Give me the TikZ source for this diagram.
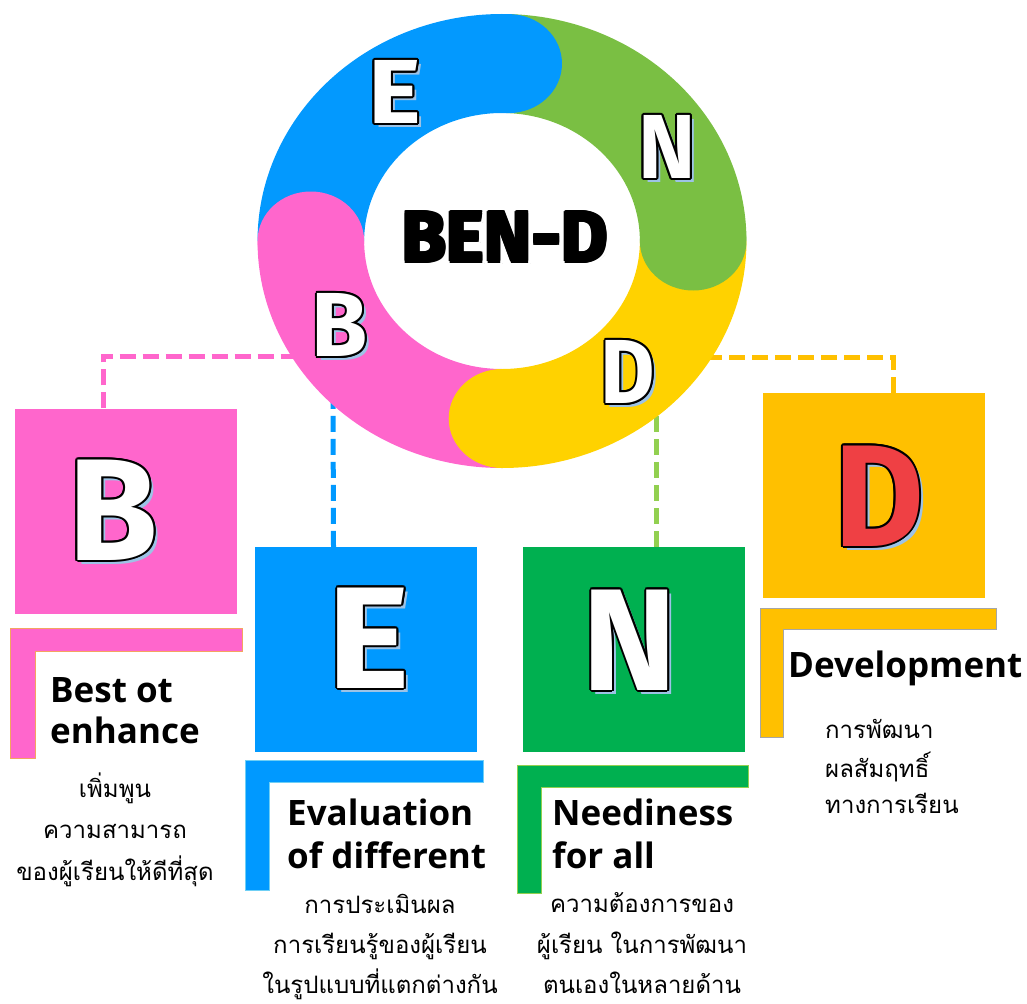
\documentclass[tikz,border=0pt]{standalone}
\usepackage{fontspec}
\setmainfont{Open Sans}
\newfontfamily\thaifont[Script=Thai]{Loma}
\newfontfamily\letterfont{Fira Sans}
\definecolor{rblue}{HTML}{0399FE}
\definecolor{rgreen}{HTML}{7ABF43}
\definecolor{ryellow}{HTML}{FFD200}
\definecolor{rpink}{HTML}{FF66CC}
\definecolor{bpink}{HTML}{FF66CC}
\definecolor{bblue}{HTML}{0099FF}
\definecolor{bgreen}{HTML}{00B050}
\definecolor{borange}{HTML}{FFC000}
\definecolor{lgreen}{HTML}{92D050}
\definecolor{shadowblue}{HTML}{9DC3E6}
\definecolor{dred}{HTML}{EF4044}
\definecolor{pinkedge}{HTML}{F4A460}
\definecolor{blueedge}{HTML}{6FCFF5}
\definecolor{grayedge}{HTML}{A6A6A6}
\tikzset{
  box/.style={draw=none, inner sep=0, minimum width=222, minimum height=205},
  bracket/.style={line width=1pt},
  conn/.style={line width=5pt, dash pattern=on 16pt off 7pt},
  captxt/.style={font=\bfseries\fontsize{35}{35}\selectfont, inner sep=0, anchor=base west},
  thaitxt/.style={font=\thaifont\fontsize{24}{24}\selectfont, inner sep=0, anchor=base},
  thaileft/.style={thaitxt, anchor=base west},
  bigL/.style={font=\letterfont\bfseries\fontsize{145}{145}\selectfont, inner sep=0},
  ringL/.style={font=\letterfont\bfseries\fontsize{91}{91}\selectfont, inner sep=0},
  titleL/.style={font=\letterfont\bfseries\fontsize{72}{72}\selectfont, inner sep=0},
}
% name, position, text, fill, outline, shadow, style
\newcommand\outlet[7]{%
  \node[#7, text=#6, xshift=4, yshift=-4] at (#2) {#3};
  \foreach \a in {0,30,...,330}{\node[#7, text=#5, shift={(\a:2)}] at (#2) {#3};}
  \node[#7, text=#4] (#1) at (#2) {#3};
}
\begin{document}
\begin{tikzpicture}[x=1pt,y=-1pt]
\useasboundingbox (0,0) rectangle (1027,1003);

% boxes
\node[box, fill=bpink]   (Bbox) at (126,511)   {};
\node[box, fill=bblue]   (Ebox) at (365.5,649.5) {};
\node[box, fill=bgreen]  (Nbox) at (634,649.5) {};
\node[box, fill=borange] (Dbox) at (874,495.5) {};

% connector ends under the ring
\coordinate (pinkend) at (300,356);
\coordinate (blueend) at (333,395);
\coordinate (greenend) at (656,405);
\coordinate (orangeend) at (705,357);

\draw[conn, bpink]  ([xshift=-23]Bbox.north) |- (pinkend);
\draw[conn, bblue]  ([xshift=-32]Ebox.north) -- (blueend);
\draw[conn, lgreen] ([xshift=22]Nbox.north) -- (greenend);
\draw[conn, borange] ([xshift=19]Dbox.north) |- (orangeend);

% ring
\begin{scope}[shift={(502,241)}, yscale=-1, xscale=1.077]
  \fill[rblue]   (180:227) arc[start angle=180, end angle=88, radius=227] -- (88:128) arc[start angle=88, end angle=180, radius=128] -- cycle;
  \fill[rgreen]  (88:227) arc[start angle=88, end angle=0, radius=227] -- (0:128) arc[start angle=0, end angle=88, radius=128] -- cycle;
  \fill[ryellow] (0:227) arc[start angle=0, end angle=-90, radius=227] -- (-90:128) arc[start angle=-90, end angle=0, radius=128] -- cycle;
  \fill[rpink]   (-90:227) arc[start angle=-90, end angle=-180, radius=227] -- (-180:128) arc[start angle=-180, end angle=-90, radius=128] -- cycle;
  \fill[rblue]   (88:177.5) circle[radius=49.5];
  \fill[rgreen]  (0:177.5) circle[radius=49.5];
  \fill[ryellow] (-90:177.5) circle[radius=49.5];
  \fill[rpink]   (180:177.5) circle[radius=49.5];
\end{scope}

% ring letters
\outlet{rE}{395,92}{\scalebox{1.1}[1]{E}}{white}{black}{shadowblue}{ringL}
\outlet{rN}{667,147}{\scalebox{0.95}[1]{N}}{white}{black}{shadowblue}{ringL}
\outlet{rB}{340,325}{\scalebox{1.0}[1]{B}}{white}{black}{shadowblue}{ringL}
\outlet{rD}{628,372}{\scalebox{0.92}[1]{D}}{white}{black}{shadowblue}{ringL}

% title
\node[titleL, text=gray!70, xshift=3, yshift=-3] at (505,237) {BEN-D};
\foreach \a in {0,20,...,340}{\node[titleL, text=white, shift={(\a:4.5)}] at (505,237) {BEN-D};}
\foreach \a in {0,45,...,315}{\node[titleL, text=black, shift={(\a:1.6)}] at (505,237) {BEN-D};}
\node[titleL, text=black] (title) at (505,237) {BEN-D};

% big letters
\outlet{bB}{113,510}{\scalebox{1.0}[1]{B}}{white}{black}{shadowblue}{bigL}
\outlet{bE}{369,638}{\scalebox{1.08}[1]{E}}{white}{black}{shadowblue}{bigL}
\outlet{bN}{630,640}{\scalebox{0.98}[1]{N}}{white}{black}{shadowblue}{bigL}
\outlet{bD}{879,496}{\scalebox{0.95}[1]{D}}{dred}{black}{shadowblue}{bigL}

% brackets
\draw[bracket, fill=bpink, draw=pinkedge] (10,628) -- (242,628) -- (242,651) -- (35,651) -- (35,758) -- (10,758) -- cycle;
\draw[bracket, fill=bblue, draw=blueedge] (245,760) -- (483,760) -- (483,782) -- (269,782) -- (269,890) -- (245,890) -- cycle;
\draw[bracket, fill=bgreen, draw=lgreen] (517,765) -- (748,765) -- (748,787) -- (541,787) -- (541,893) -- (517,893) -- cycle;
\draw[bracket, fill=borange, draw=grayedge] (760,608) -- (996,608) -- (996,629) -- (783,629) -- (783,737) -- (760,737) -- cycle;

% captions
\node[captxt] (bc1) at (50,702) {Best ot};
\node[captxt] (bc2) at (50,743) {enhance};
\node[thaitxt] (bt1) at (115,797) {เพิ่มพูน};
\node[thaitxt] (bt2) at (115,838) {ความสามารถ};
\node[thaitxt] (bt3) at (115,880) {ของผู้เรียนให้ดีที่สุด};

\node[captxt] (ec1) at (287,825) {Evaluation};
\node[captxt] (ec2) at (287,868) {of different};
\node[thaitxt] (et1) at (380,913) {การประเมินผล};
\node[thaitxt] (et2) at (380,953) {การเรียนรู้ของผู้เรียน};
\node[thaitxt] (et3) at (380,993) {ในรูปแบบที่แตกต่างกัน};

\node[captxt] (nc1) at (552,825) {Neediness};
\node[captxt] (nc2) at (552,868) {for all};
\node[thaitxt] (nt1) at (642,912) {ความต้องการของ};
\node[thaitxt] (nt2) at (642,953) {ผู้เรียน ในการพัฒนา};
\node[thaitxt] (nt3) at (642,993) {ตนเองในหลายด้าน};

\node[captxt] (dc1) at (788,677) {Development};
\node[thaileft] (dt1) at (825,738) {การพัฒนา};
\node[thaileft] (dt2) at (825,777) {ผลสัมฤทธิ์};
\node[thaileft] (dt3) at (825,813) {ทางการเรียน};
\end{tikzpicture}
\end{document}
